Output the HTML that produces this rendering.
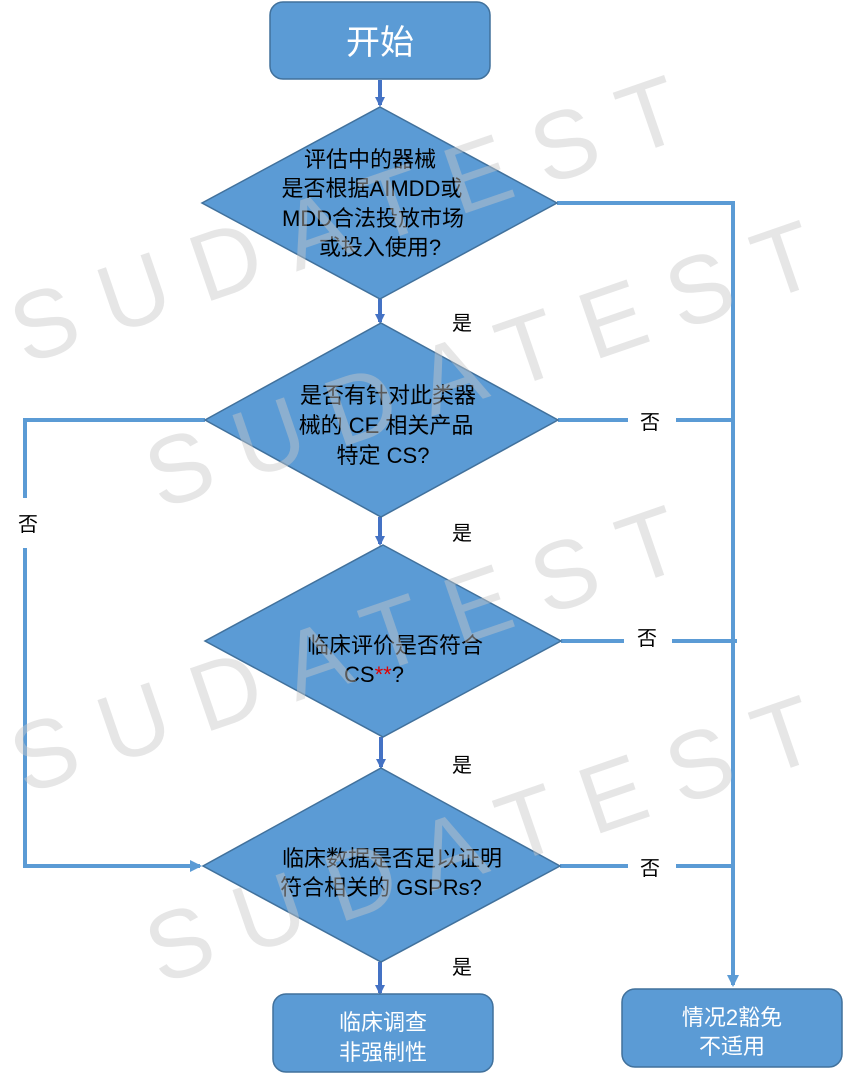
<!DOCTYPE html>
<html><head><meta charset="utf-8"><style>
html,body{margin:0;padding:0;background:#fff;}
svg{display:block;}
</style></head><body>
<svg width="843" height="1079" viewBox="0 0 843 1079" xmlns="http://www.w3.org/2000/svg" font-family="'Liberation Sans','Noto Sans CJK SC',sans-serif">
<defs>
<marker id="a" markerWidth="10" markerHeight="10" refX="8" refY="5" orient="auto" markerUnits="userSpaceOnUse">
<path d="M0,0 L10,5 L0,10 z" fill="#4472c4"/></marker>
<marker id="b" markerWidth="12" markerHeight="12" refX="10" refY="6" orient="auto" markerUnits="userSpaceOnUse">
<path d="M0,0 L12,6 L0,12 z" fill="#5b9bd5"/></marker>
</defs>
<g stroke="#5b9bd5" stroke-width="4" fill="none">
<path d="M557,203 H733 V985" marker-end="url(#b)"/>
<path d="M558,420 H628 M676,420 H733"/>
<path d="M561,641 H624 M672,641 H737"/>
<path d="M560,866 H628 M676,866 H733"/>
<path d="M205,420 H25 V498 M25,548 V866 H200" marker-end="url(#b)"/>
</g>
<g stroke="#4472c4" stroke-width="4">
<line x1="380" y1="80" x2="380" y2="105" marker-end="url(#a)"/>
<line x1="380" y1="299" x2="380" y2="322" marker-end="url(#a)"/>
<line x1="380" y1="517" x2="380" y2="544" marker-end="url(#a)"/>
<line x1="381" y1="737" x2="381" y2="767" marker-end="url(#a)"/>
<line x1="380" y1="962" x2="380" y2="993" marker-end="url(#a)"/>
</g>
<g fill="#5b9bd5" stroke="#41719c" stroke-width="1.5">
<rect x="270" y="2" width="220" height="77" rx="13"/>
<polygon points="380,107 557,203 380,299 202,203"/>
<polygon points="381,323 558,420 381,517 205,420"/>
<polygon points="383,545 561,641 383,737 205,641"/>
<polygon points="381,768 560,866 381,962 203,866"/>
<rect x="273" y="994" width="220" height="78" rx="13"/>
<rect x="622" y="989" width="220" height="78" rx="13"/>
</g>
<g fill="#fff" text-anchor="middle">
<text x="380" y="54" font-size="34">开始</text>
<text x="383" y="1030" font-size="22">临床调查</text>
<text x="383" y="1060" font-size="22">非强制性</text>
<text x="732" y="1025" font-size="22">情况2豁免</text>
<text x="732" y="1054" font-size="22">不适用</text>
</g>
<g fill="#000" text-anchor="middle" font-size="22">
<text x="370" y="167">评估中的器械</text>
<text x="372" y="196">是否根据AIMDD或</text>
<text x="373" y="226">MDD合法投放市场</text>
<text x="380" y="255">或投入使用?</text>
<text x="388" y="403">是否有针对此类器</text>
<text x="386" y="433">械的 CE 相关产品</text>
<text x="383" y="463">特定 CS?</text>
<text x="395" y="653">临床评价是否符合</text>
<text x="374" y="682">CS<tspan fill="#e00000">**</tspan>?</text>
<text x="392" y="866">临床数据是否足以证明</text>
<text x="381" y="895">符合相关的 GSPRs?</text>
</g>
<g fill="#000" text-anchor="middle" font-size="20">
<text x="462" y="330">是</text>
<text x="462" y="540">是</text>
<text x="462" y="772">是</text>
<text x="462" y="974">是</text>
<text x="650" y="429">否</text>
<text x="647" y="645">否</text>
<text x="650" y="875">否</text>
<text x="28" y="531">否</text>
</g>
<g fill="#c8c8c8" fill-opacity="0.45" font-size="96" letter-spacing="28">
<text transform="translate(25,365) rotate(-19)">SUDATEST</text>
<text transform="translate(160,510) rotate(-19)">SUDATEST</text>
<text transform="translate(25,795) rotate(-19)">SUDATEST</text>
<text transform="translate(160,985) rotate(-19)">SUDATEST</text>
</g>
</svg>
</body></html>
